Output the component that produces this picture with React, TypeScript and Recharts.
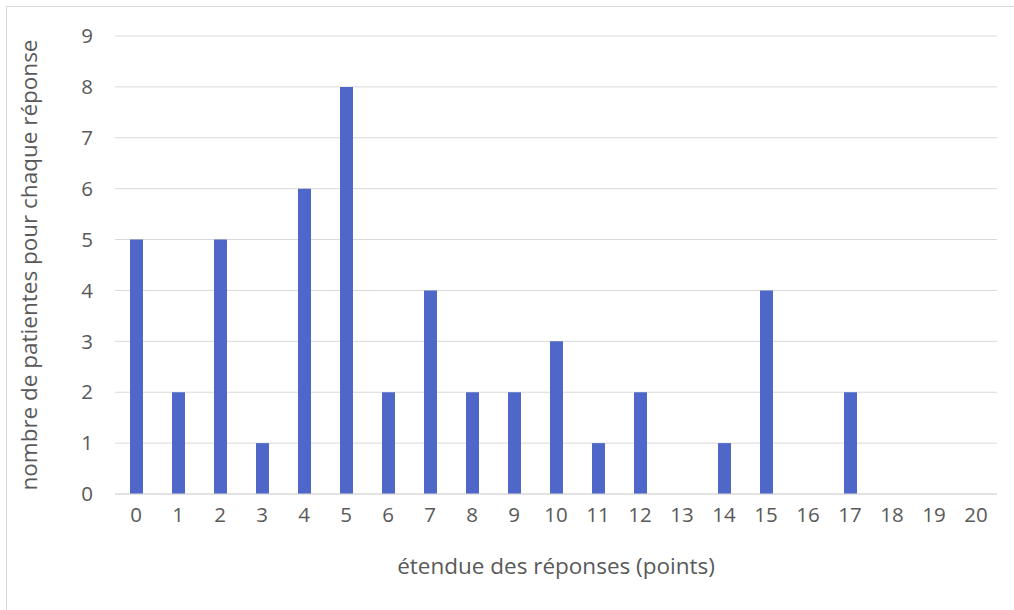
import { BarChart, Bar, XAxis, YAxis, CartesianGrid, Label } from "recharts";

const etendue = ["0", "1", "2", "3", "4", "5", "6", "7", "8", "9", "10", "11", "12", "13", "14", "15", "16", "17", "18", "19", "20"];
const patientes = [5, 2, 5, 1, 6, 8, 2, 4, 2, 2, 3, 1, 2, 0, 1, 4, 0, 2, 0, 0, 0];
const yTicks = [0, 1, 2, 3, 4, 5, 6, 7, 8, 9];

const data = etendue.map((e, i) => ({ etendue: e, patientes: patientes[i] }));

const FONT = "'Open Sans', sans-serif";
const GRAY = "#595959";

export default function App() {
  return (
    <div style={{ position: "fixed", left: 0, top: 0, width: 1014, height: 610, overflow: "hidden", background: "#fff" }}>
      <div
        style={{
          position: "absolute",
          left: 6,
          top: 6,
          width: 1040,
          height: 640,
          border: "1px solid #d9d9d9",
        }}
      />
      <div style={{ position: "absolute", left: 0, top: 0 }}>
        <BarChart
          width={1014}
          height={610}
          data={data}
          margin={{ top: 36, right: 17, bottom: 86, left: 0 }}
          barCategoryGap={0}
        >
          <CartesianGrid vertical={false} stroke="#d9d9d9" />
          <XAxis
            dataKey="etendue"
            height={30}
            tickLine={false}
            tickSize={0}
            tickMargin={13}
            axisLine={{ stroke: "#d9d9d9" }}
            interval={0}
            tick={{ fill: GRAY, fontSize: 20.5, fontFamily: FONT }}
          >
            <Label
              value="étendue des réponses (points)"
              position="bottom"
              offset={34}
              fill={GRAY}
              fontSize={22.5}
              fontFamily={FONT}
            />
          </XAxis>
          <YAxis
            width={115}
            domain={[0, 9]}
            ticks={yTicks}
            interval={0}
            tickLine={false}
            axisLine={false}
            tickSize={0}
            tickMargin={22}
            tick={{ fill: GRAY, fontSize: 20.5, fontFamily: FONT }}
          >
            <Label
              value="nombre de patientes pour chaque réponse"
              angle={-90}
              position="insideLeft"
              offset={29}
              fill={GRAY}
              fontSize={22.5}
              fontFamily={FONT}
              style={{ textAnchor: "middle" }}
            />
          </YAxis>
          <Bar dataKey="patientes" fill="#4E67C8" barSize={13} isAnimationActive={false} />
        </BarChart>
      </div>
    </div>
  );
}
